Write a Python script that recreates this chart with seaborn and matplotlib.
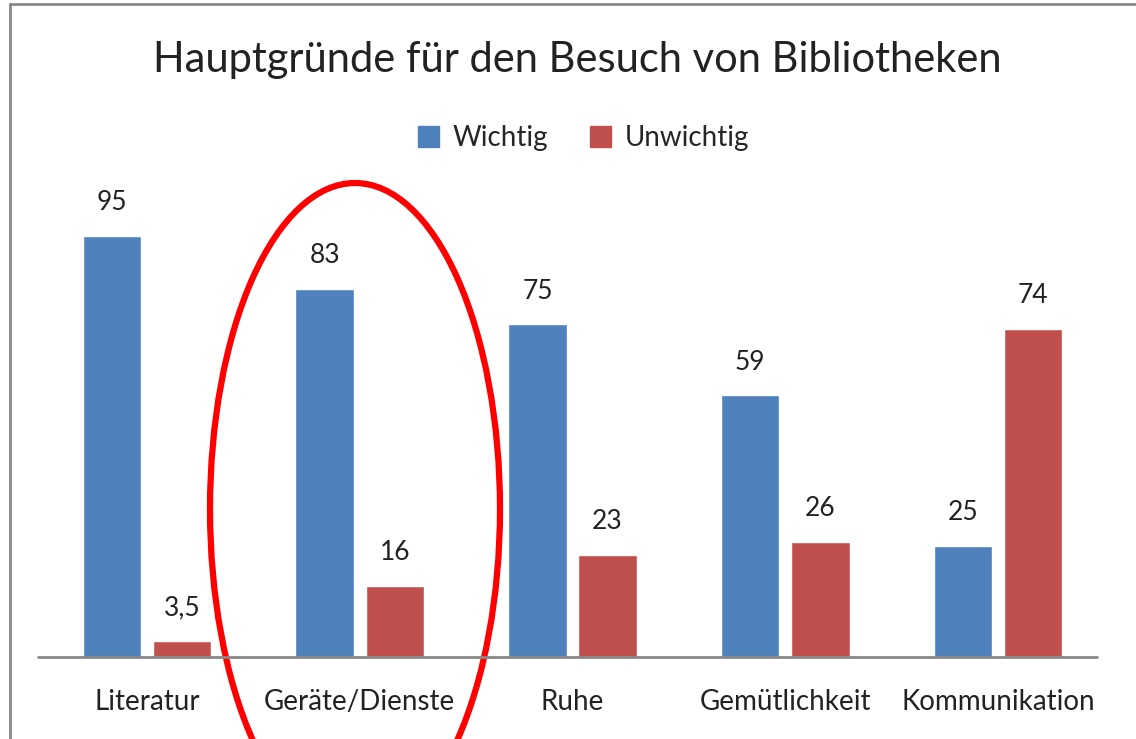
import matplotlib.pyplot as plt
import seaborn as sns
import pandas as pd
from matplotlib.patches import Ellipse
from matplotlib.lines import Line2D

categories = ["Literatur", "Geräte/Dienste", "Ruhe", "Gemütlichkeit", "Kommunikation"]
wichtig = [95, 83, 75, 59, 25]
unwichtig = [3.5, 16, 23, 26, 74]
series_names = ["Wichtig", "Unwichtig"]
colors = ["#4F81BD", "#C0504D"]

df = pd.DataFrame({
    "Grund": categories * 2,
    "Wert": wichtig + unwichtig,
    "Serie": [series_names[0]] * len(categories) + [series_names[1]] * len(categories),
})

sns.set_style("white")
plt.rcParams["font.family"] = ["Lato", "DejaVu Sans"]

fig = plt.figure(figsize=(11.36, 7.39), dpi=100)
ax = fig.add_axes([40.6 / 1136, 0.111, 1063.8 / 1136, 0.60])

sns.barplot(data=df, x="Grund", y="Wert", hue="Serie", palette=colors,
            width=0.66, gap=0.17, ax=ax, legend=False, saturation=1)

for container in ax.containers:
    labels = [f"{v:g}".replace(".", ",") for v in container.datavalues]
    ax.bar_label(container, labels=labels, padding=15, fontsize=19, color="#222222")

ax.set_ylim(0, 100)
ax.set_xlim(-0.5, len(categories) - 0.5)
ax.set_xlabel("")
ax.set_ylabel("")
ax.set_yticks([])
ax.tick_params(axis="x", length=0, pad=23, labelsize=20, labelcolor="#222222")
for side in ["top", "right", "left", "bottom"]:
    ax.spines[side].set_visible(False)
# baseline of the category axis
fig.add_artist(Line2D([38 / 1136, 1097 / 1136], [1 - 657 / 739, 1 - 657 / 739],
                      transform=fig.transFigure, color="#888888", linewidth=2))

handles = [plt.Rectangle((0, 0), 1, 1, color=c) for c in colors]
fig.legend(handles, series_names, loc="center", bbox_to_anchor=(0.5136, 0.813), ncol=2,
           frameon=False, fontsize=20, handlelength=0.75, handleheight=0.75,
           handletextpad=0.5, columnspacing=1.5)

fig.text(0.508, 1 - 60 / 739, "Hauptgründe für den Besuch von Bibliotheken",
         ha="center", va="center", fontsize=30, color="#222222")

# red ellipse highlighting the second group
fig.add_artist(Ellipse((355 / 1136, 1 - 509 / 739), 290 / 1136, 652 / 739,
                       transform=fig.transFigure, fill=False, edgecolor="#FF0000",
                       linewidth=4.5, clip_on=False))

# chart frame edges
fig.add_artist(Line2D([10 / 1136, 1], [1 - 4 / 739, 1 - 4 / 739], transform=fig.transFigure,
                      color="#888888", linewidth=2))
fig.add_artist(Line2D([10 / 1136, 10 / 1136], [0, 1 - 4 / 739], transform=fig.transFigure,
                      color="#888888", linewidth=2))

plt.savefig("out.png", dpi=100)
plt.close()
